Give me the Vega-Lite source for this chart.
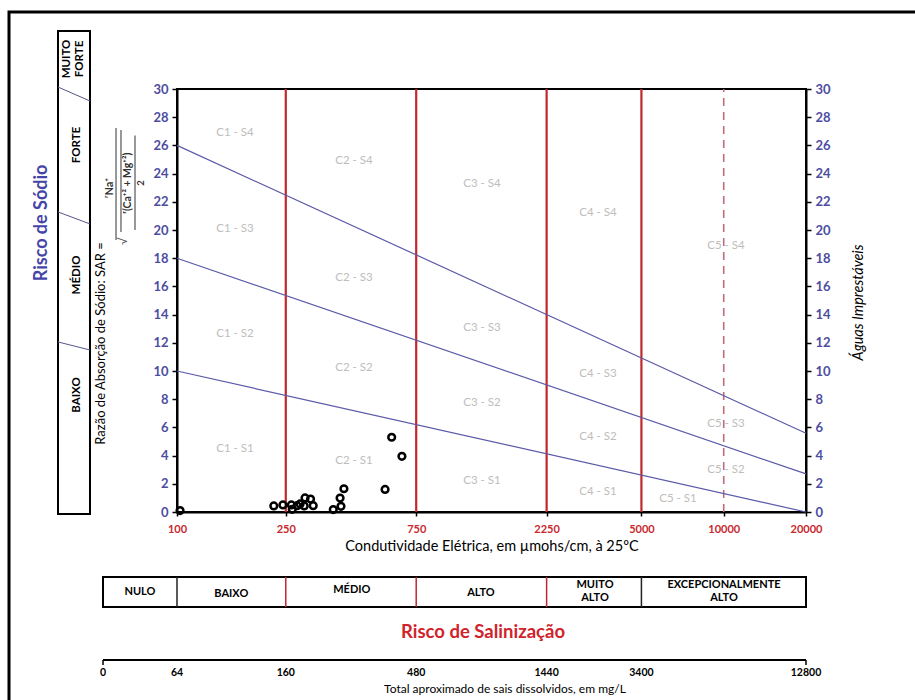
{
  "$schema": "https://vega.github.io/schema/vega-lite/v6.json",
  "width": 629,
  "height": 423,
  "autosize": "none",
  "padding": {"left": 177, "top": 89, "right": 109, "bottom": 188},
  "background": "white",
  "config": {
    "font": "Lato",
    "view": {"stroke": "black", "strokeWidth": 2},
    "axis": {"grid": false, "domainColor": "black", "domainWidth": 2, "tickColor": "black", "tickWidth": 1.5}
  },
  "encoding": {
    "x": {
      "field": "ec", "type": "quantitative",
      "scale": {"type": "log", "domain": [100, 20000], "nice": false},
      "axis": {
        "values": [100, 250, 750, 2250, 5000, 10000, 20000], "format": "d",
        "labelColor": "#c8282e", "labelFontSize": 11, "labelFontWeight": "bold", "labelPadding": 7,
        "labelOverlap": false, "labelFlush": false, "tickSize": 4,
        "title": "Condutividade Elétrica, em µmohs/cm, à 25ºC", "titleFontSize": 14.5,
        "titleFontWeight": "normal", "titlePadding": 5, "titleColor": "black"
      }
    },
    "y": {
      "field": "sar", "type": "quantitative",
      "scale": {"domain": [0, 30], "nice": false, "zero": false},
      "axis": null
    }
  },
  "resolve": {"axis": {"y": "independent"}},
  "layer": [
    {
      "data": {"values": [{"ec": 24.29, "ec2": 60000, "sar": 35.46, "sar2": -16}]},
      "mark": {"type": "rect", "fill": null, "stroke": "black", "strokeWidth": 3},
      "encoding": {"x2": {"field": "ec2"}, "y2": {"field": "sar2"}}
    },
    {
      "data": {"values": [{"ec": 36.7, "ec2": 48.05, "sar": 34.11, "sar2": -0.14}]},
      "mark": {"type": "rect", "fill": "white", "stroke": "black", "strokeWidth": 2},
      "encoding": {"x2": {"field": "ec2"}, "y2": {"field": "sar2"}}
    },
    {
      "data": {"values": [
        {"ec": 36.7, "ec2": 48.05, "sar": 30.14, "sar2": 29.15},
        {"ec": 36.7, "ec2": 48.05, "sar": 21.28, "sar2": 20.43},
        {"ec": 36.7, "ec2": 48.05, "sar": 12.06, "sar2": 11.49}
      ]},
      "mark": {"type": "rule", "color": "#55558a", "strokeWidth": 1},
      "encoding": {"x2": {"field": "ec2"}, "y2": {"field": "sar2"}}
    },
    {
      "data": {"values": [
        {"ec": 39.6, "sar": 32.13, "label": ["MUITO", "FORTE"]},
        {"ec": 43.08, "sar": 26.03, "label": "FORTE"},
        {"ec": 43.08, "sar": 16.81, "label": "MÉDIO"},
        {"ec": 43.08, "sar": 8.3, "label": "BAIXO"}
      ]},
      "mark": {"type": "text", "angle": 270, "align": "center", "baseline": "middle", "fontSize": 11.5, "fontWeight": "bold", "color": "black", "lineHeight": 13},
      "encoding": {"text": {"field": "label"}}
    },
    {
      "data": {"values": [{"ec": 32.08, "sar": 20.5, "label": "Risco de Sódio"}]},
      "mark": {"type": "text", "angle": 270, "align": "center", "baseline": "middle", "fontSize": 18, "fontWeight": "bold", "color": "#4545a8"},
      "encoding": {"text": {"field": "label"}}
    },
    {
      "data": {"values": [
        {"ec": 56.88, "sar": 22.98, "label": "ʳNa⁺", "size": 11},
        {"ec": 66.2, "sar": 23.33, "label": "ʳ(Ca⁺² + Mg⁺²)", "size": 10.5},
        {"ec": 73.84, "sar": 23.33, "label": "2", "size": 9.5}
      ]},
      "mark": {"type": "text", "angle": 270, "align": "center", "baseline": "middle", "fontWeight": "bold", "color": "#333333"},
      "encoding": {"text": {"field": "label"}, "size": {"field": "size", "type": "quantitative", "scale": null}}
    },
    {
      "data": {"values": [
        {"ec": 59.83, "sar": 27.23, "sar2": 19.29},
        {"ec": 62.39, "sar": 27.09, "sar2": 19.86},
        {"ec": 70.21, "sar": 26.7, "sar2": 20.0}
      ]},
      "mark": {"type": "rule", "color": "#333333", "strokeWidth": 1},
      "encoding": {"y2": {"field": "sar2"}}
    },
    {
      "data": {"values": [{"ec": 63.5, "sar": 19.2, "label": "√"}]},
      "mark": {"type": "text", "angle": 270, "align": "center", "baseline": "middle", "fontSize": 12, "color": "#555555"},
      "encoding": {"text": {"field": "label"}}
    },
    {
      "data": {"values": [
        {"ec": 250, "sar": 0, "sar2": 30},
        {"ec": 750, "sar": 0, "sar2": 30},
        {"ec": 2250, "sar": 0, "sar2": 30},
        {"ec": 5000, "sar": 0, "sar2": 30}
      ]},
      "mark": {"type": "rule", "color": "#c1272d", "strokeWidth": 2.2},
      "encoding": {
        "y": {
          "field": "sar", "type": "quantitative",
          "scale": {"domain": [0, 30], "nice": false, "zero": false},
          "axis": {
            "orient": "right", "values": [0, 2, 4, 6, 8, 10, 12, 14, 16, 18, 20, 22, 24, 26, 28, 30],
            "labelColor": "#4d4d9f", "labelFontSize": 13, "labelFontWeight": "bold", "tickSize": 5, "labelPadding": 4,
            "title": "Águas Imprestáveis", "titleAngle": 270, "titleX": 52, "titleY": 213,
            "titleAlign": "center", "titleBaseline": "middle", "titleFontStyle": "italic",
            "titleFontSize": 14.5, "titleFontWeight": "normal", "titleColor": "black"
          }
        },
        "y2": {"field": "sar2"}
      }
    },
    {
      "data": {"values": [{"ec": 10000, "sar": 0, "sar2": 30}]},
      "mark": {"type": "rule", "color": "#c06b7a", "strokeWidth": 1.6, "strokeDash": [8, 6]},
      "encoding": {"y2": {"field": "sar2"}}
    },
    {
      "data": {"values": [
        {"line": "S1/S2", "ec": 100, "sar": 10},
        {"line": "S1/S2", "ec": 20000, "sar": 0},
        {"line": "S2/S3", "ec": 100, "sar": 18},
        {"line": "S2/S3", "ec": 20000, "sar": 2.7},
        {"line": "S3/S4", "ec": 100, "sar": 26},
        {"line": "S3/S4", "ec": 20000, "sar": 5.58}
      ]},
      "mark": {"type": "line", "color": "#5a5aa8", "strokeWidth": 1.2},
      "encoding": {
        "detail": {"field": "line"},
        "y": {
          "field": "sar", "type": "quantitative",
          "scale": {"domain": [0, 30], "nice": false, "zero": false},
          "axis": {
            "orient": "left", "values": [0, 2, 4, 6, 8, 10, 12, 14, 16, 18, 20, 22, 24, 26, 28, 30],
            "labelColor": "#4d4d9f", "labelFontSize": 13, "labelFontWeight": "bold", "tickSize": 5, "labelPadding": 4,
            "title": "Razão de Absorção de Sódio:  SAR  =", "titleAngle": 270, "titleX": -77, "titleY": 254,
            "titleAlign": "center", "titleBaseline": "middle", "titleFontSize": 13,
            "titleFontWeight": "normal", "titleColor": "black"
          }
        }
      }
    },
    {
      "data": {"values": [
        {"ec": 163, "sar": 26.9, "label": "C1 - S4"},
        {"ec": 444, "sar": 24.9, "label": "C2 - S4"},
        {"ec": 1305, "sar": 23.26, "label": "C3 - S4"},
        {"ec": 3468, "sar": 21.2, "label": "C4 - S4"},
        {"ec": 10194, "sar": 18.9, "label": "C5 - S4"},
        {"ec": 163, "sar": 20.1, "label": "C1 - S3"},
        {"ec": 444, "sar": 16.6, "label": "C2 - S3"},
        {"ec": 1305, "sar": 13.05, "label": "C3 - S3"},
        {"ec": 3468, "sar": 9.79, "label": "C4 - S3"},
        {"ec": 10194, "sar": 6.24, "label": "C5 - S3"},
        {"ec": 163, "sar": 12.6, "label": "C1 - S2"},
        {"ec": 444, "sar": 10.2, "label": "C2 - S2"},
        {"ec": 1305, "sar": 7.73, "label": "C3 - S2"},
        {"ec": 3468, "sar": 5.3, "label": "C4 - S2"},
        {"ec": 10194, "sar": 3.0, "label": "C5 - S2"},
        {"ec": 163, "sar": 4.47, "label": "C1 - S1"},
        {"ec": 444, "sar": 3.62, "label": "C2 - S1"},
        {"ec": 1305, "sar": 2.2, "label": "C3 - S1"},
        {"ec": 3468, "sar": 1.42, "label": "C4 - S1"},
        {"ec": 6804, "sar": 0.92, "label": "C5 - S1"}
      ]},
      "mark": {"type": "text", "align": "center", "baseline": "middle", "fontSize": 11.5, "color": "#bdbdbd"},
      "encoding": {"text": {"field": "label"}}
    },
    {
      "data": {"values": [
        {"ec": 102.6, "sar": 0.1},
        {"ec": 226, "sar": 0.43},
        {"ec": 244, "sar": 0.5},
        {"ec": 262, "sar": 0.5},
        {"ec": 264, "sar": 0.19},
        {"ec": 275, "sar": 0.45},
        {"ec": 282, "sar": 0.57},
        {"ec": 292, "sar": 0.43},
        {"ec": 294, "sar": 1.0},
        {"ec": 308, "sar": 0.92},
        {"ec": 315, "sar": 0.45},
        {"ec": 373, "sar": 0.17},
        {"ec": 395, "sar": 0.99},
        {"ec": 398, "sar": 0.4},
        {"ec": 408, "sar": 1.65},
        {"ec": 577, "sar": 1.6},
        {"ec": 610, "sar": 5.3},
        {"ec": 665, "sar": 3.95}
      ]},
      "mark": {"type": "point", "shape": "circle", "filled": false, "color": "black", "strokeWidth": 2.5, "size": 45, "opacity": 1}
    },
    {
      "data": {"values": [{"ec": 53.62, "ec2": 20000, "sar": -4.61, "sar2": -6.74}]},
      "mark": {"type": "rect", "fill": "white", "stroke": "black", "strokeWidth": 2},
      "encoding": {"x2": {"field": "ec2"}, "y2": {"field": "sar2"}}
    },
    {
      "data": {"values": [
        {"ec": 100, "sar": -4.61, "sar2": -6.74, "kind": "black"},
        {"ec": 250, "sar": -4.61, "sar2": -6.74, "kind": "red"},
        {"ec": 750, "sar": -4.61, "sar2": -6.74, "kind": "red"},
        {"ec": 2250, "sar": -4.61, "sar2": -6.74, "kind": "red"},
        {"ec": 5000, "sar": -4.61, "sar2": -6.74, "kind": "black"}
      ]},
      "mark": {"type": "rule", "strokeWidth": 1.5},
      "encoding": {
        "y2": {"field": "sar2"},
        "color": {"field": "kind", "type": "nominal", "scale": {"domain": ["black", "red"], "range": ["#222222", "#c1272d"]}, "legend": null}
      }
    },
    {
      "data": {"values": [
        {"ec": 73.2, "sar": -5.67, "label": "NULO"},
        {"ec": 158, "sar": -5.8, "label": "BAIXO"},
        {"ec": 436, "sar": -5.55, "label": "MÉDIO"},
        {"ec": 1294, "sar": -5.75, "label": "ALTO"},
        {"ec": 3382, "sar": -5.21, "label": ["MUITO", "ALTO"]},
        {"ec": 10024, "sar": -5.21, "label": ["EXCEPCIONALMENTE", "ALTO"]}
      ]},
      "mark": {"type": "text", "align": "center", "baseline": "middle", "fontSize": 11, "fontWeight": "bold", "color": "black", "lineHeight": 13},
      "encoding": {"text": {"field": "label"}}
    },
    {
      "data": {"values": [{"ec": 1316.6, "sar": -8.51, "label": "Risco de Salinização"}]},
      "mark": {"type": "text", "align": "center", "baseline": "middle", "fontSize": 18.5, "fontWeight": "bold", "color": "#d0232b"},
      "encoding": {"text": {"field": "label"}}
    },
    {
      "data": {"values": [{"ec": 53.62, "ec2": 20000, "sar": -10.5}]},
      "mark": {"type": "rule", "color": "black", "strokeWidth": 2},
      "encoding": {"x2": {"field": "ec2"}}
    },
    {
      "data": {"values": [
        {"ec": 53.62, "sar": -10.5, "sar2": -10.85},
        {"ec": 20000, "sar": -10.5, "sar2": -10.85}
      ]},
      "mark": {"type": "rule", "color": "black", "strokeWidth": 1.5},
      "encoding": {"y2": {"field": "sar2"}}
    },
    {
      "data": {"values": [
        {"ec": 53.62, "sar": -11.42, "label": "0"},
        {"ec": 100, "sar": -11.42, "label": "64"},
        {"ec": 250, "sar": -11.42, "label": "160"},
        {"ec": 750, "sar": -11.42, "label": "480"},
        {"ec": 2250, "sar": -11.42, "label": "1440"},
        {"ec": 5000, "sar": -11.42, "label": "3400"},
        {"ec": 20000, "sar": -11.42, "label": "12800"}
      ]},
      "mark": {"type": "text", "align": "center", "baseline": "middle", "fontSize": 10.5, "fontWeight": "bold", "color": "black"},
      "encoding": {"text": {"field": "label"}}
    },
    {
      "data": {"values": [{"ec": 1584, "sar": -12.55, "label": "Total aproximado de sais dissolvidos, em mg/L"}]},
      "mark": {"type": "text", "align": "center", "baseline": "middle", "fontSize": 12, "color": "black"},
      "encoding": {"text": {"field": "label"}}
    }
  ]
}
